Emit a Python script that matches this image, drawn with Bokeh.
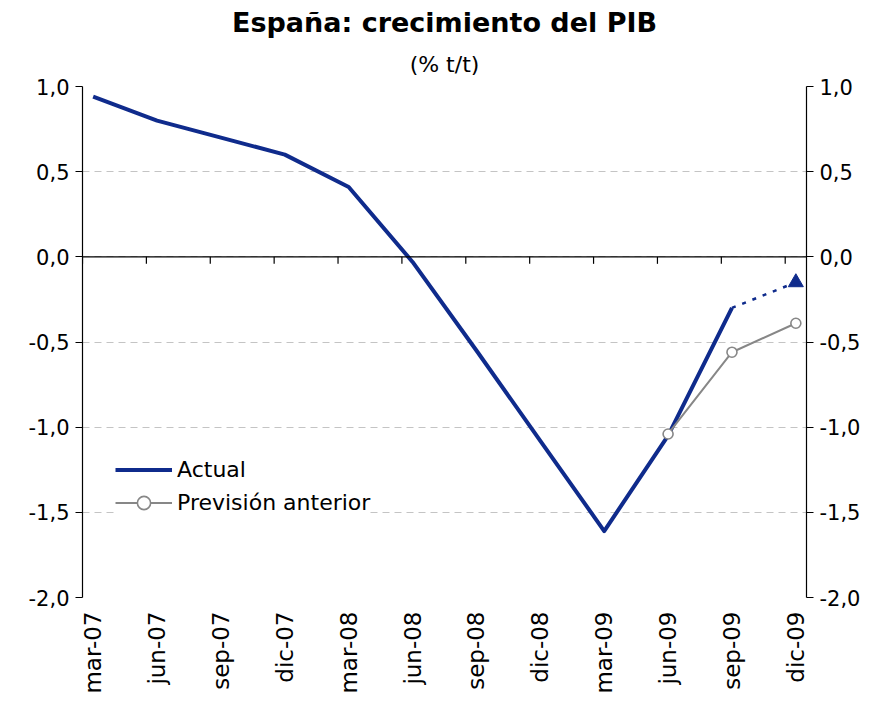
import math
from bokeh.plotting import figure
from bokeh.models import (Range1d, FixedTicker, LinearAxis, Span, Legend, LegendItem, Title)
from bokeh.embed import file_html
from bokeh.resources import INLINE

# ---- data ----
quarters = ["mar-07", "jun-07", "sep-07", "dic-07", "mar-08", "jun-08",
            "sep-08", "dic-08", "mar-09", "jun-09", "sep-09", "dic-09"]
actual = [0.94, 0.80, 0.70, 0.60, 0.41, -0.03, -0.55, -1.08, -1.61, -1.05, -0.30]
estimate_quarters = ["sep-09", "dic-09"]
estimate = [-0.30, -0.15]
previous_quarters = ["jun-09", "sep-09", "dic-09"]
previous = [-1.04, -0.56, -0.39]
y_ticks = [-2.0, -1.5, -1.0, -0.5, 0.0, 0.5, 1.0]
y_tick_labels = ["-2,0", "-1,5", "-1,0", "-0,5", "0,0", "0,5", "1,0"]

FONT = "DejaVu Sans"
NAVY = "#0f2b8c"
GRAY = "#878787"

pos = {q: i for i, q in enumerate(quarters)}
x_actual = [pos[q] for q in quarters[:len(actual)]]
x_est = [pos[q] for q in estimate_quarters]
x_prev = [pos[q] for q in previous_quarters]

W, H = 873, 703
p = figure(width=W, height=H, output_backend="svg", toolbar_location=None,
           x_range=Range1d(-1 / 6, len(quarters) - 1 + 1 / 6),
           y_range=Range1d(y_ticks[0], y_ticks[-1]),
           min_border_left=82, min_border_right=67, min_border_bottom=106,
           min_border_top=86, title=None)
p.outline_line_color = None
p.background_fill_color = "white"
p.border_fill_color = "white"

# titles
sub = Title(text="(% t/t)", align="center", text_font=FONT, text_font_size="22px",
            text_font_style="normal", text_color="black", standoff=20)
p.add_layout(sub, "above")
main = Title(text="España: crecimiento del PIB", align="center", text_font=FONT,
             text_font_size="27px", text_font_style="bold", text_color="black", standoff=4)
p.add_layout(main, "above")

# grid
p.xgrid.grid_line_color = None
p.ygrid.ticker = FixedTicker(ticks=y_ticks)
p.ygrid.grid_line_color = "#c4c4c4"
p.ygrid.grid_line_dash = "7 5"
p.ygrid.grid_line_width = 1

# y axes
overrides = {t: l for t, l in zip(y_ticks, y_tick_labels)}
right = LinearAxis()
p.add_layout(right, "right")
for ax in [p.yaxis[0], right]:
    ax.ticker = FixedTicker(ticks=y_ticks)
    ax.major_label_overrides = overrides
    ax.major_tick_out = 7
    ax.major_tick_in = 0
    ax.minor_tick_line_color = None
    ax.axis_line_color = "black"
    ax.axis_line_width = 1.2
    ax.major_tick_line_width = 1.2
    ax.major_label_text_font = FONT
    ax.major_label_text_font_size = "21px"
    ax.major_label_text_color = "black"
    ax.major_label_standoff = 6

# x axis (labels only, at bottom)
xa = p.xaxis[0]
xa.ticker = FixedTicker(ticks=list(range(len(quarters))))
xa.major_label_overrides = {i: q for i, q in enumerate(quarters)}
xa.major_label_orientation = math.pi / 2
xa.axis_line_color = None
xa.major_tick_line_color = None
xa.minor_tick_line_color = None
xa.major_tick_out = 0
xa.major_tick_in = 0
xa.major_label_standoff = 14
xa.major_label_text_font = FONT
xa.major_label_text_font_size = "23px"
xa.major_label_text_color = "black"

# zero line with tick marks between quarters
p.add_layout(Span(location=0, dimension="width", line_color="black", line_width=1.3))
tick_x = [i - 1 / 6 for i in range(len(quarters))]
tick_len = 7 * (y_ticks[-1] - y_ticks[0]) / 511.0
p.segment(x0=tick_x, y0=[0] * len(tick_x), x1=tick_x, y1=[-tick_len] * len(tick_x),
          line_color="black", line_width=1.2)

# series
r_act = p.line(x_actual, actual, line_color=NAVY, line_width=4, line_join="round")
p.line(x_est, estimate, line_color=NAVY, line_width=2.5, line_dash="4 7")
p.scatter(x_est[-1:], estimate[-1:], marker="triangle", size=15, fill_color=NAVY,
          line_color=NAVY)
r_prev_l = p.line(x_prev, previous, line_color=GRAY, line_width=2)
r_prev_m = p.scatter(x_prev, previous, marker="circle", size=10, fill_color="white",
                     line_color=GRAY, line_width=1.6)

legend = Legend(items=[LegendItem(label="Actual", renderers=[r_act]),
                       LegendItem(label="Previsión anterior", renderers=[r_prev_l, r_prev_m])],
                location=(33, 78), orientation="vertical")
legend.border_line_color = None
legend.background_fill_color = "white"
legend.background_fill_alpha = 1
legend.label_text_font = FONT
legend.label_text_font_size = "22px"
legend.label_text_color = "black"
legend.glyph_width = 57
legend.glyph_height = 33
legend.label_height = 33
legend.label_standoff = 5
legend.spacing = 0
legend.padding = 0
legend.margin = 0
p.add_layout(legend, "center")

open("out.html", "w").write(file_html(p, INLINE))
